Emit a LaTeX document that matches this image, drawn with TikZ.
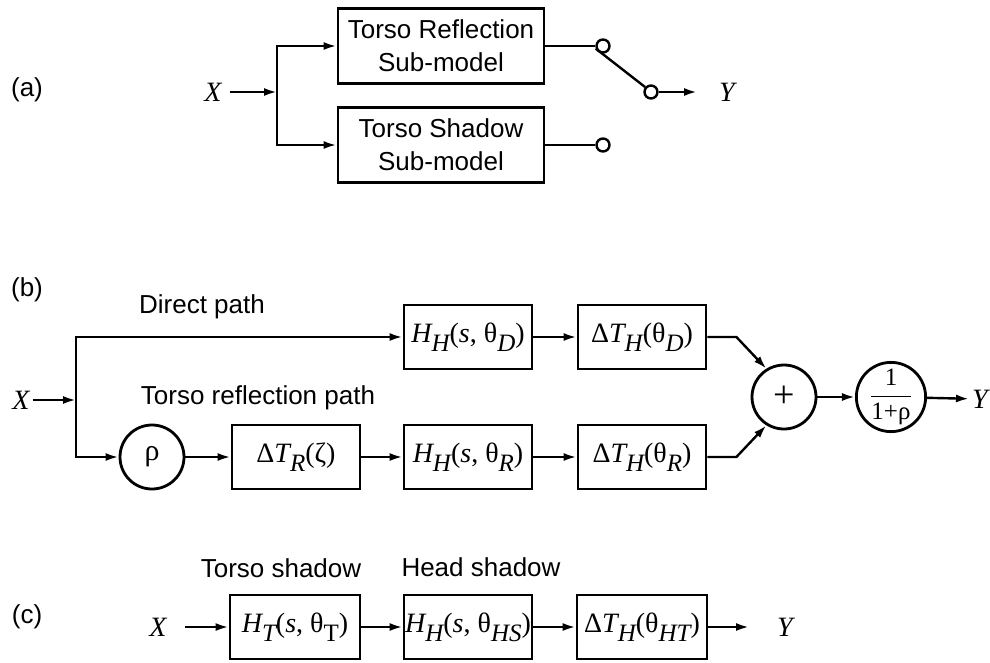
\documentclass[tikz,border=0pt]{standalone}
\usepackage{fontspec}
\setmainfont{Liberation Sans}
\newfontfamily\tms{Liberation Serif}
\usetikzlibrary{positioning,arrows.meta}

\newcommand\mi[1]{{\tms\itshape #1}}
\newcommand\lo[1]{\raisebox{-9pt}{\fontsize{25}{25}\selectfont\tms\itshape #1}}
\newcommand\loup[1]{\raisebox{-9pt}{\fontsize{25}{25}\selectfont\tms #1}}

\begin{document}
\begin{tikzpicture}[x=1pt,y=-1pt,
    line width=2.4pt, >={Latex[length=13pt,width=8pt]},
    every node/.style={font=\fontsize{26}{31}\selectfont},
    blk/.style={draw, line width=2.8pt, inner sep=0pt, minimum width=128pt, minimum height=64pt, font=\fontsize{28}{30}\selectfont\tms},
    subm/.style={blk, minimum width=206pt, minimum height=75pt, align=center, font=\fontsize{26}{33}\selectfont},
    junc/.style={circle, draw, line width=2.8pt, inner sep=0pt, minimum size=64pt, font=\fontsize{28}{30}\selectfont\tms},
    contact/.style={circle, draw, line width=2.4pt, inner sep=0pt, minimum size=13pt},
    sig/.style={font=\fontsize{28}{30}\selectfont\tms\itshape, inner sep=2pt}]
  \useasboundingbox (0,0) rectangle (990,662);

  % (a) switched sub-models
  \node (lblA) at (27,90) {(a)};
  \node[sig] (xa) at (213,92) {X};
  \coordinate (ja) at (277,92);
  \node[subm] (refl) at (441,46) {Torso Reflection\\Sub-model};
  \node[subm] (shad) at (441,145) {Torso Shadow\\Sub-model};
  \node[contact] (c1) at (603,46) {};
  \node[contact] (c2) at (603,145) {};
  \node[contact] (c3) at (651,92) {};
  \node[sig] (ya) at (727,92) {Y};
  \draw[->, shorten <=5pt] (xa) -- (ja);
  \draw[->] (ja) |- (refl);
  \draw[->] (ja) |- (shad);
  \draw (refl) -- (c1);
  \draw (shad) -- (c2);
  \draw (c1.200) -- (c3.140);
  \draw[->, shorten >=19pt] (c3) -- (ya);

  % (b) direct and reflected paths
  \node (lblB) at (27,290) {(b)};
  \node (dpath) at (202,307) {Direct path};
  \node (tpath) at (258,398) {Torso reflection path};
  \node[sig] (xb) at (21,400) {X};
  \coordinate (jb) at (76,400);
  \node[junc, font=\fontsize{30}{30}\selectfont\tms] (rho) at (152,457) {ρ};
  \node[blk] (dtr) at (296,457) {Δ\mi{T}\lo{R}(ζ)};
  \node[blk] (hhd) at (468,337) {\mi{H}\lo{H}(\mi{s}, θ\lo{D})};
  \node[blk] (hhr) at (468,457) {\mi{H}\lo{H}(\mi{s}, θ\lo{R})};
  \node[blk] (dthd) at (642,337) {Δ\mi{T}\lo{H}(θ\lo{D})};
  \node[blk] (dthr) at (642,457) {Δ\mi{T}\lo{H}(θ\lo{R})};
  \node[junc, font=\fontsize{38}{38}\selectfont\tms] (sum) at (784,397) {+};
  \node[junc, font=\fontsize{25}{25}\selectfont\tms] (norm) at (891,397) {${\displaystyle\frac{\hbox{1}}{\hbox{1+ρ}}}$};
  \node[sig] (yb) at (980,399) {Y};
  \draw[->] (xb) -- (jb);
  \draw[->] (jb) |- (hhd);
  \draw[->] (jb) |- (rho);
  \draw[->] (rho) -- (dtr);
  \draw[->] (dtr) -- (hhr);
  \draw[->] (hhd) -- (dthd);
  \draw[->] (hhr) -- (dthr);
  \draw[->] (dthd.east) -- ++(29,0) -- (sum.122);
  \draw[->] (dthr.east) -- ++(29,0) -- (sum.238);
  \draw[->] (sum) -- (norm);
  \draw[->] (norm) -- (yb);

  % (c) shadow cascade
  \node (lblC) at (27,617) {(c)};
  \node (tsh) at (281,568) {Torso shadow};
  \node (hsh) at (481,567) {Head shadow};
  \node[sig] (xc) at (158,627) {X};
  \node[blk, minimum width=130pt] (ht) at (295,627) {\mi{H}\lo{T}(\mi{s}, θ\loup{T})};
  \node[blk] (hhs) at (468,627) {\mi{H}\lo{H}(\mi{s}, θ\lo{HS})};
  \node[blk, minimum width=130pt] (dtht) at (642,627) {Δ\mi{T}\lo{H}(θ\lo{HT})};
  \node[sig] (yc) at (785,627) {Y};
  \draw[->, shorten <=15pt] (xc) -- (ht);
  \draw[->] (ht) -- (hhs);
  \draw[->] (hhs) -- (dtht);
  \draw[->, shorten >=25pt] (dtht) -- (yc);
\end{tikzpicture}
\end{document}
